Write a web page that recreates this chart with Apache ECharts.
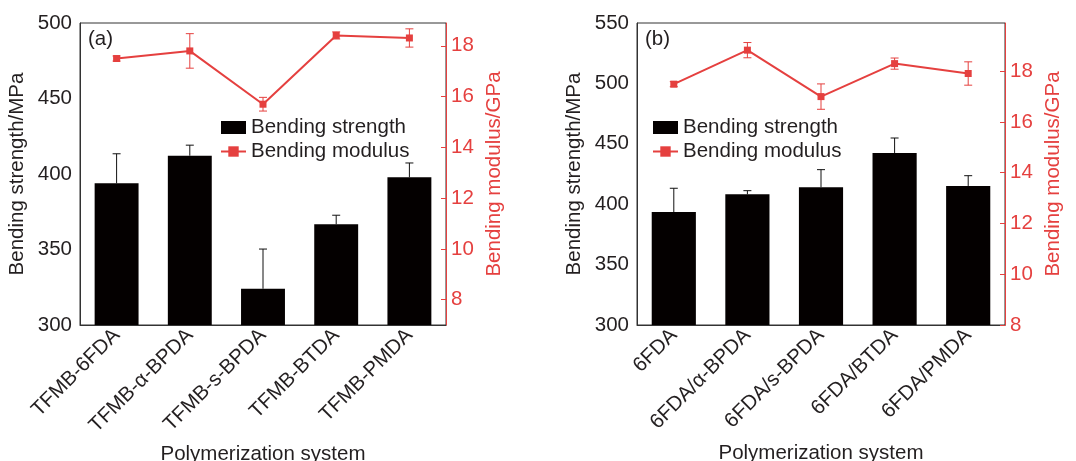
<!DOCTYPE html>
<html>
<head>
<meta charset="utf-8">
<script src="https://cdn.jsdelivr.net/npm/echarts@6/dist/echarts.min.js"></script>
<style>
  html, body { margin: 0; padding: 0; background: #fff; }
  #chart { width: 1076px; height: 461px; }
</style>
</head>
<body>
<div id="chart"></div>
<script>
var categoriesA = ['TFMB-6FDA', 'TFMB-α-BPDA', 'TFMB-s-BPDA', 'TFMB-BTDA', 'TFMB-PMDA'];
var strengthA = [393.8, 412.1, 324, 366.7, 397.8];
var strengthErrA = [19.6, 7, 26.3, 6, 9.5];
var modulusA = [17.5, 17.8, 15.7, 18.41, 18.31];
var modulusErrA = [0.1, 0.68, 0.27, 0.14, 0.36];

var categoriesB = ['6FDA', '6FDA/α-BPDA', '6FDA/s-BPDA', '6FDA/BTDA', '6FDA/PMDA'];
var strengthB = [393.5, 408.2, 414, 442.4, 415.1];
var strengthErrB = [19.7, 3, 14.6, 12.4, 8.5];
var modulusB = [17.49, 18.83, 17.0, 18.3, 17.91];
var modulusErrB = [0.1, 0.3, 0.5, 0.22, 0.46];

var modulusTicks = [8, 10, 12, 14, 16, 18];

var RED = '#e5403f';
var INK = '#231f20';
var FONT = 'Liberation Sans, Arial, sans-serif';
var FS = 20.5;

var chartDom = document.getElementById('chart');
var myChart = echarts.init(chartDom);
var option;

// error bar drawing: data items are [index, low, high]
function errorBar(color) {
  return function (params, api) {
    var lo = api.coord([api.value(0), api.value(1)]);
    var hi = api.coord([api.value(0), api.value(2)]);
    var half = 4;
    var style = { stroke: color, lineWidth: 1 };
    var kids = [
      { type: 'line', shape: { x1: lo[0], y1: lo[1], x2: hi[0], y2: hi[1] }, style: style },
      { type: 'line', shape: { x1: hi[0] - half, y1: hi[1], x2: hi[0] + half, y2: hi[1] }, style: style }
    ];
    if (params.seriesName.indexOf('sym') >= 0) {
      kids.push({ type: 'line', shape: { x1: lo[0] - half, y1: lo[1], x2: lo[0] + half, y2: lo[1] }, style: style });
    }
    return { type: 'group', children: kids };
  };
}

function upErr(vals, errs) {
  return vals.map(function (v, i) { return [i, v, v + errs[i]]; });
}
function symErr(vals, errs) {
  return vals.map(function (v, i) { return [i, v - errs[i], v + errs[i]]; });
}

function xAxisFor(cats, gi) {
  return {
    type: 'category',
    gridIndex: gi,
    data: cats,
    axisLine: { lineStyle: { color: '#333', width: 1 } },
    axisTick: { show: false },
    axisLabel: { rotate: 45, fontSize: FS, color: INK, fontFamily: FONT, margin: 7, interval: 0 },
    name: 'Polymerization system',
    nameLocation: 'middle',
    nameGap: 118,
    nameTextStyle: { fontSize: FS, color: INK, fontFamily: FONT }
  };
}

function leftAxis(gi, min, max) {
  return {
    type: 'value',
    gridIndex: gi,
    min: min,
    max: max,
    interval: 50,
    splitLine: { show: false },
    axisLine: { show: true, lineStyle: { color: '#333', width: 1 } },
    axisTick: { show: false },
    axisLabel: { fontSize: FS, color: INK, fontFamily: FONT, margin: 8 },
    name: 'Bending strength/MPa',
    nameLocation: 'middle',
    nameRotate: 90,
    nameGap: 52,
    nameTextStyle: { fontSize: FS, color: INK, fontFamily: FONT }
  };
}

function rightAxis(gi, min, max) {
  return {
    type: 'value',
    gridIndex: gi,
    position: 'right',
    min: min,
    max: max,
    splitLine: { show: false },
    axisLine: { show: true, lineStyle: { color: RED, width: 1 } },
    axisTick: { show: true, inside: true, length: 5, lineStyle: { color: RED }, customValues: modulusTicks },
    axisLabel: { fontSize: FS, color: RED, fontFamily: FONT, margin: 5, customValues: modulusTicks },
    name: 'Bending modulus/GPa',
    nameLocation: 'middle',
    nameRotate: 90,
    nameGap: 38,
    nameTextStyle: { fontSize: FS, color: RED, fontFamily: FONT }
  };
}

function legendAt(left) {
  return {
    orient: 'vertical',
    left: left,
    top: 112,
    itemWidth: 25,
    itemHeight: 13,
    itemGap: 3,
    data: [
      { name: 'Bending strength', icon: 'rect' },
      { name: 'Bending modulus' }
    ],
    textStyle: { fontSize: FS, color: INK, fontFamily: FONT }
  };
}

option = {
  animation: false,
  backgroundColor: '#fff',
  textStyle: { fontFamily: FONT },
  legend: [legendAt(215), legendAt(647)],
  grid: [
    { left: 80, top: 23, width: 366, height: 302, show: true, borderColor: '#333', borderWidth: 1, containLabel: false, outerBoundsMode: 'none' },
    { left: 637, top: 23, width: 368, height: 302, show: true, borderColor: '#333', borderWidth: 1, containLabel: false, outerBoundsMode: 'none' }
  ],
  xAxis: [xAxisFor(categoriesA, 0), xAxisFor(categoriesB, 1)],
  yAxis: [leftAxis(0, 300, 500), rightAxis(0, 7, 18.9), leftAxis(1, 300, 550), rightAxis(1, 8, 19.9)],
  graphic: [
    { type: 'text', left: 88, top: 29, style: { text: '(a)', fontSize: FS, fill: INK, fontFamily: FONT } },
    { type: 'text', left: 645, top: 29, style: { text: '(b)', fontSize: FS, fill: INK, fontFamily: FONT } }
  ],
  series: [
    {
      name: 'Bending strength', type: 'bar', xAxisIndex: 0, yAxisIndex: 0,
      barWidth: '60%', itemStyle: { color: '#040000' }, data: strengthA
    },
    {
      name: 'err-up-a', type: 'custom', xAxisIndex: 0, yAxisIndex: 0, z: 3,
      renderItem: errorBar('#111'), data: upErr(strengthA, strengthErrA)
    },
    {
      name: 'Bending modulus', type: 'line', xAxisIndex: 0, yAxisIndex: 1, z: 4,
      symbol: 'rect', symbolSize: 7, color: RED,
      lineStyle: { color: RED, width: 2 }, itemStyle: { color: RED }, data: modulusA
    },
    {
      name: 'err-sym-a', type: 'custom', xAxisIndex: 0, yAxisIndex: 1, z: 5,
      renderItem: errorBar(RED), data: symErr(modulusA, modulusErrA)
    },
    {
      name: 'Bending strength', type: 'bar', xAxisIndex: 1, yAxisIndex: 2,
      barWidth: '60%', itemStyle: { color: '#040000' }, data: strengthB
    },
    {
      name: 'err-up-b', type: 'custom', xAxisIndex: 1, yAxisIndex: 2, z: 3,
      renderItem: errorBar('#111'), data: upErr(strengthB, strengthErrB)
    },
    {
      name: 'Bending modulus', type: 'line', xAxisIndex: 1, yAxisIndex: 3, z: 4,
      symbol: 'rect', symbolSize: 7, color: RED,
      lineStyle: { color: RED, width: 2 }, itemStyle: { color: RED }, data: modulusB
    },
    {
      name: 'err-sym-b', type: 'custom', xAxisIndex: 1, yAxisIndex: 3, z: 5,
      renderItem: errorBar(RED), data: symErr(modulusB, modulusErrB)
    }
  ]
};

option && myChart.setOption(option);
</script>
</body>
</html>
